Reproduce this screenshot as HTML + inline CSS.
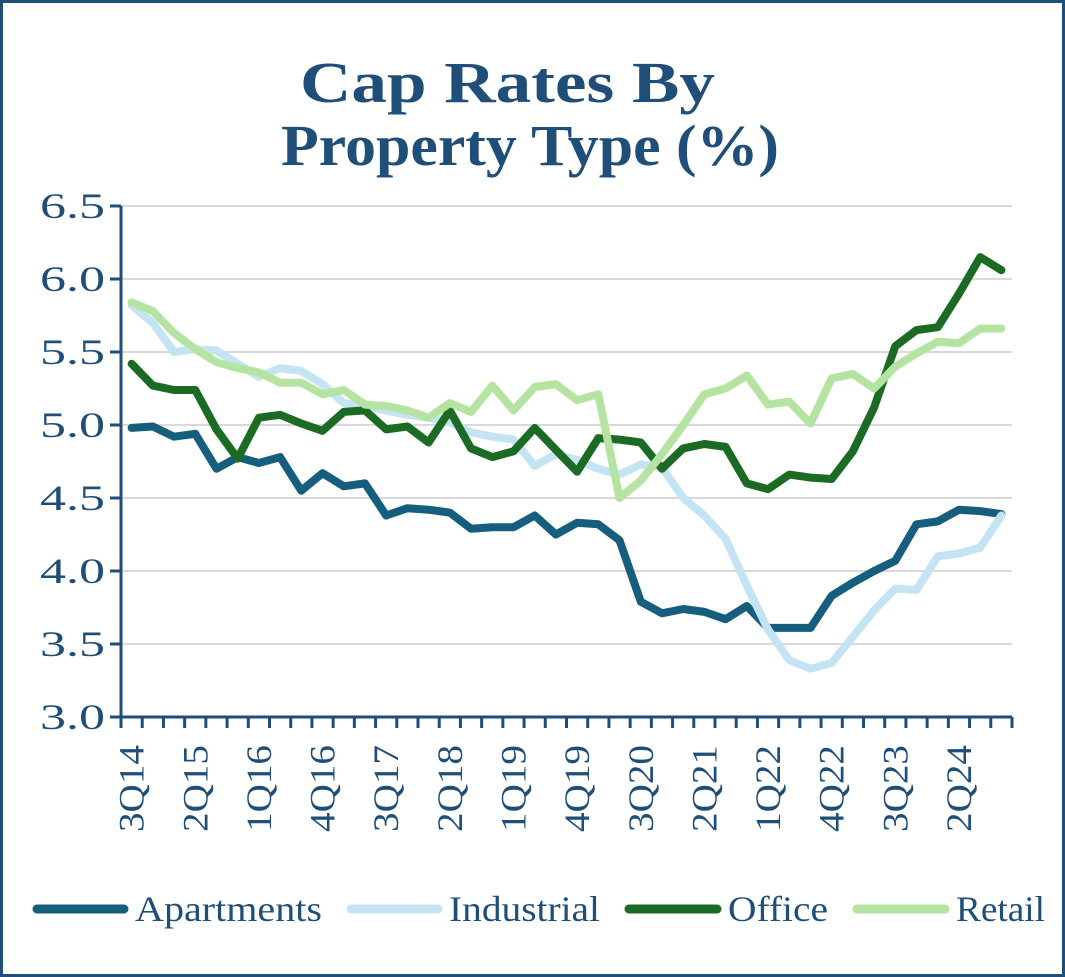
<!DOCTYPE html>
<html><head><meta charset="utf-8"><style>
html,body{margin:0;padding:0;background:#fff}
svg{display:block}
text{font-family:"Liberation Serif",serif;fill:#1f4e79}
</style></head><body>
<svg id="chart" width="1065" height="977" viewBox="0 0 1065 977">
<rect x="1.5" y="1.5" width="1062" height="974" fill="#fff" stroke="#1f4e79" stroke-width="3"/>
<text x="300" y="102" textLength="415" lengthAdjust="spacingAndGlyphs" font-size="58" font-weight="bold">Cap Rates By</text>
<text x="281" y="165" textLength="498" lengthAdjust="spacingAndGlyphs" font-size="58" font-weight="bold">Property Type (%)</text>
<g id="grid"></g><g id="axes"></g><g id="series"></g><g id="legend"></g>
</svg>
<script>
const categories=["3Q14","4Q14","1Q15","2Q15","3Q15","4Q15","1Q16","2Q16","3Q16","4Q16","1Q17","2Q17","3Q17","4Q17","1Q18","2Q18","3Q18","4Q18","1Q19","2Q19","3Q19","4Q19","1Q20","2Q20","3Q20","4Q20","1Q21","2Q21","3Q21","4Q21","1Q22","2Q22","3Q22","4Q22","1Q23","2Q23","3Q23","4Q23","1Q24","2Q24","3Q24","4Q24"];
const apartments=[4.98,4.99,4.92,4.94,4.70,4.78,4.74,4.78,4.55,4.67,4.58,4.60,4.38,4.43,4.42,4.40,4.29,4.30,4.30,4.38,4.25,4.33,4.32,4.21,3.79,3.71,3.74,3.72,3.67,3.76,3.61,3.61,3.61,3.83,3.92,4.00,4.07,4.32,4.34,4.42,4.41,4.39];
const industrial=[5.82,5.70,5.50,5.52,5.51,5.42,5.33,5.39,5.37,5.28,5.15,5.13,5.10,5.07,5.05,5.02,4.95,4.92,4.90,4.72,4.80,4.76,4.70,4.66,4.73,4.71,4.50,4.38,4.22,3.90,3.60,3.39,3.33,3.37,3.55,3.73,3.88,3.87,4.10,4.12,4.16,4.38];
const office=[5.42,5.27,5.24,5.24,4.97,4.77,5.05,5.07,5.01,4.96,5.09,5.10,4.97,4.99,4.88,5.10,4.84,4.78,4.82,4.98,4.83,4.68,4.91,4.90,4.88,4.70,4.84,4.87,4.85,4.60,4.56,4.66,4.64,4.63,4.82,5.12,5.54,5.65,5.67,5.90,6.15,6.06];
const retail=[5.84,5.78,5.63,5.52,5.43,5.39,5.36,5.29,5.29,5.21,5.24,5.14,5.13,5.10,5.05,5.15,5.09,5.27,5.10,5.26,5.28,5.17,5.21,4.50,4.62,4.80,5.00,5.21,5.25,5.34,5.14,5.16,5.01,5.32,5.35,5.25,5.40,5.49,5.57,5.56,5.66,5.66];
const yTicks=[3.0,3.5,4.0,4.5,5.0,5.5,6.0,6.5];
const yTickLabels=["3.0","3.5","4.0","4.5","5.0","5.5","6.0","6.5"];
const labelEvery=3;
const NS="http://www.w3.org/2000/svg";
const L=121,R=1012,T=206,B=717,yMin=3,yMax=6.5;
const bw=(R-L)/categories.length;
const xs=i=>L+bw*(i+0.5);
const ys=v=>B-(v-yMin)/(yMax-yMin)*(B-T);
function mk(tag,attrs,parent){const e=document.createElementNS(NS,tag);for(const k in attrs)e.setAttribute(k,attrs[k]);parent.appendChild(e);return e;}
const grid=document.getElementById('grid'),axes=document.getElementById('axes'),series=document.getElementById('series'),legend=document.getElementById('legend');
yTicks.forEach((v,i)=>{
  if(v>yMin){const g=mk('line',{x1:L,x2:R,y1:ys(v),y2:ys(v),stroke:'#d9d9d9','stroke-width':2},grid);
  
  }
  const t=mk('line',{x1:L-11,x2:L,y1:ys(v),y2:ys(v),stroke:'#1f4e79','stroke-width':3},axes);
  
  
  const tx=mk('text',{x:40,y:ys(v)+12,textLength:65,lengthAdjust:'spacingAndGlyphs','font-size':36},axes);
  tx.textContent=yTickLabels[i];
  
  
});
const ya=mk('line',{x1:L,x2:L,y1:T,y2:B+1.5,stroke:'#1f4e79','stroke-width':3},axes);


const xa=mk('line',{x1:L-11,x2:R,y1:B,y2:B,stroke:'#1f4e79','stroke-width':3},axes);


for(let i=0;i<=categories.length;i++){
  const x=L+bw*i;
  const t=mk('line',{x1:x,x2:x,y1:B,y2:B+11,stroke:'#1f4e79','stroke-width':3},axes);
  
  
}
categories.forEach((c,i)=>{
  if(i%labelEvery!==0)return;
  const x=xs(i)+12,y=B+115;
  const tx=mk('text',{x:x,y:y,textLength:87,lengthAdjust:'spacingAndGlyphs','font-size':36,transform:`rotate(-90 ${x} ${y})`},axes);
  tx.textContent=c;
  
  
});
const defs=[["Apartments",apartments,"#155e7e"],["Industrial",industrial,"#c5e4f3"],["Office",office,"#1b6b24"],["Retail",retail,"#b5e4a2"]];
defs.forEach(([name,vals,col])=>{
  const p=mk('polyline',{points:vals.map((v,i)=>xs(i).toFixed(1)+','+ys(v).toFixed(1)).join(' '),fill:'none',stroke:col,'stroke-width':8,'stroke-linejoin':'round','stroke-linecap':'round'},series);
  
  
});
const legX=[[33,135,187],[347,449,151],[625,728,100],[853,956,89]];
defs.forEach(([name,vals,col],i)=>{
  const g=mk('g',{},legend);
  
  
  mk('line',{x1:legX[i][0]+4,x2:legX[i][1]-11,y1:909,y2:909,stroke:col,'stroke-width':9,'stroke-linecap':'round'},g);
  const t=mk('text',{x:legX[i][1],y:921,textLength:legX[i][2],lengthAdjust:'spacingAndGlyphs','font-size':36},g);
  t.textContent=name;
});
</script>
</body></html>
